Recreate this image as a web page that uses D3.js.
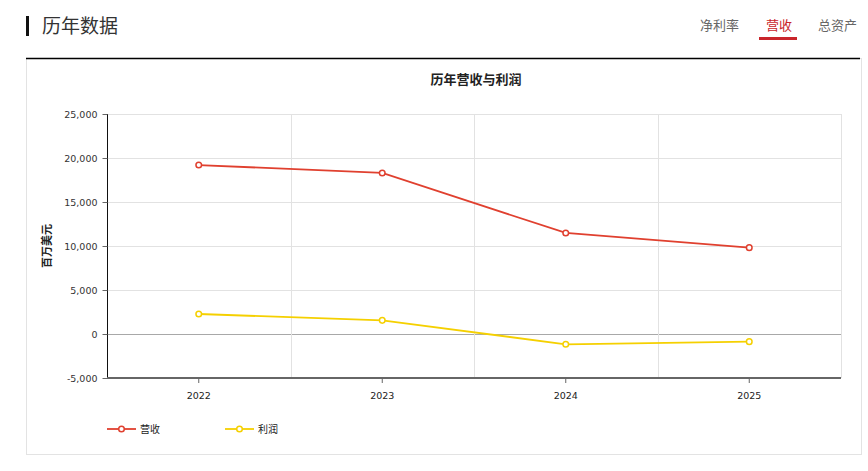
<!DOCTYPE html>
<html>
<head>
<meta charset="utf-8">
<script src="https://cdn.jsdelivr.net/npm/d3@7"></script>
<style>
  body { margin: 0; background: #fff; }
  svg { display: block; font-family: "Microsoft YaHei", "Noto Sans CJK SC", sans-serif; }
  .num { font-family: Verdana, "DejaVu Sans", sans-serif; }
</style>
</head>
<body>
<div id="chart"></div>
<script>
const years = ["2022", "2023", "2024", "2025"];
const revenue = [19200, 18300, 11480, 9810];   // 营收
const profit = [2270, 1550, -1170, -870];      // 利润
const yTicks = [-5000, 0, 5000, 10000, 15000, 20000, 25000];
const tabs = ["净利率", "营收", "总资产"];

const width = 868, height = 471;
const plot = { left: 107, right: 841, top: 114, bottom: 378 };

const series = [
    { name: "营收", values: revenue, color: "#e0402f" },
    { name: "利润", values: profit, color: "#f5d000" }
];

const svg = d3.select("#chart").append("svg")
    .attr("width", width)
    .attr("height", height);

// header
svg.append("rect").attr("x", 26).attr("y", 16).attr("width", 3).attr("height", 20).attr("fill", "#111");
svg.append("text").attr("x", 42).attr("y", 33).attr("font-size", 19).attr("fill", "#333").text("历年数据");

const tabX = [700, 766, 818];
svg.selectAll(".tab")
    .data(tabs)
    .enter().append("text")
    .attr("class", "tab")
    .attr("x", (d, i) => tabX[i])
    .attr("y", 30)
    .attr("font-size", 13)
    .attr("fill", d => d === "营收" ? "#c9252b" : "#666")
    .text(d => d);
svg.append("rect").attr("x", 759).attr("y", 37).attr("width", 38).attr("height", 3).attr("fill", "#c9252b");

// chart box
svg.append("rect")
    .attr("x", 26.5).attr("y", 58.5).attr("width", 835).attr("height", 396)
    .attr("fill", "none").attr("stroke", "#e3e3e3");
svg.append("line")
    .attr("x1", 26).attr("x2", 860).attr("y1", 58.5).attr("y2", 58.5)
    .attr("stroke", "#000").attr("stroke-width", 1.5);

svg.append("text")
    .attr("x", 476).attr("y", 84)
    .attr("text-anchor", "middle")
    .attr("font-size", 13).attr("font-weight", "bold").attr("fill", "#222")
    .text("历年营收与利润");

// scales
const x = d3.scaleBand().domain(years).range([plot.left, plot.right]);
const y = d3.scaleLinear().domain([-5000, 25000]).range([plot.bottom, plot.top]);
const cx = d => x(d) + x.bandwidth() / 2;
const fmt = d => d3.format(",")(d).replace("−", "-");

// grid
const grid = svg.append("g");
grid.selectAll(".hgrid")
    .data(yTicks.filter(t => t !== -5000))
    .enter().append("line")
    .attr("x1", plot.left).attr("x2", plot.right)
    .attr("y1", d => Math.round(y(d)) + 0.5).attr("y2", d => Math.round(y(d)) + 0.5)
    .attr("stroke", d => d === 0 ? "#a8a8a8" : "#e2e2e2");
grid.selectAll(".vgrid")
    .data(years.slice(1).concat(["end"]))
    .enter().append("line")
    .attr("x1", d => Math.round(d === "end" ? plot.right : x(d)) + 0.5)
    .attr("x2", d => Math.round(d === "end" ? plot.right : x(d)) + 0.5)
    .attr("y1", plot.top).attr("y2", plot.bottom)
    .attr("stroke", "#e2e2e2");

// axes
const yAxis = svg.append("g")
    .attr("class", "num")
    .attr("transform", `translate(${plot.left + 0.5},0)`)
    .call(d3.axisLeft(y).tickValues(yTicks).tickFormat(fmt).tickSize(5).tickPadding(5));
yAxis.select(".domain").attr("stroke", "#111").attr("d", `M0,${plot.top}V${plot.bottom}`);
yAxis.selectAll(".tick line").attr("stroke", "#666");
yAxis.selectAll("text").attr("font-size", 9.5).attr("fill", "#333");

const xAxis = svg.append("g")
    .attr("class", "num")
    .attr("transform", `translate(0,${plot.bottom})`)
    .call(d3.axisBottom(x).tickSize(5).tickPadding(9));
xAxis.select(".domain").attr("stroke", "#666").attr("stroke-width", 2).attr("d", `M${plot.left},0H${plot.right}`);
xAxis.selectAll(".tick line").attr("stroke", "#666");
xAxis.selectAll("text").attr("font-size", 9.5).attr("fill", "#222");

// y axis title
svg.append("text")
    .attr("transform", "translate(51,246) rotate(-90)")
    .attr("text-anchor", "middle")
    .attr("font-size", 11).attr("font-weight", "bold").attr("fill", "#222")
    .text("百万美元");

// lines
const line = d3.line().x((d, i) => cx(years[i])).y(d => y(d));
series.forEach(s => {
    svg.append("path")
        .datum(s.values)
        .attr("fill", "none")
        .attr("stroke", s.color)
        .attr("stroke-width", 1.8)
        .attr("d", line);
    svg.selectAll(null)
        .data(s.values)
        .enter().append("circle")
        .attr("cx", (d, i) => cx(years[i]))
        .attr("cy", d => y(d))
        .attr("r", 2.8)
        .attr("fill", "#fff")
        .attr("stroke", s.color)
        .attr("stroke-width", 1.5);
});

// legend
const legend = svg.selectAll(".legend-item")
    .data(series)
    .enter().append("g")
    .attr("class", "legend-item")
    .attr("transform", (d, i) => `translate(${107 + i * 118},429)`);
legend.append("line")
    .attr("x1", 0).attr("x2", 29).attr("y1", 0).attr("y2", 0)
    .attr("stroke", d => d.color).attr("stroke-width", 1.8);
legend.append("circle")
    .attr("cx", 14.5).attr("cy", 0).attr("r", 2.8)
    .attr("fill", "#fff").attr("stroke", d => d.color).attr("stroke-width", 1.5);
legend.append("text")
    .attr("x", 33).attr("y", 4)
    .attr("font-size", 10).attr("fill", "#222")
    .text(d => d.name);
</script>
</body>
</html>
